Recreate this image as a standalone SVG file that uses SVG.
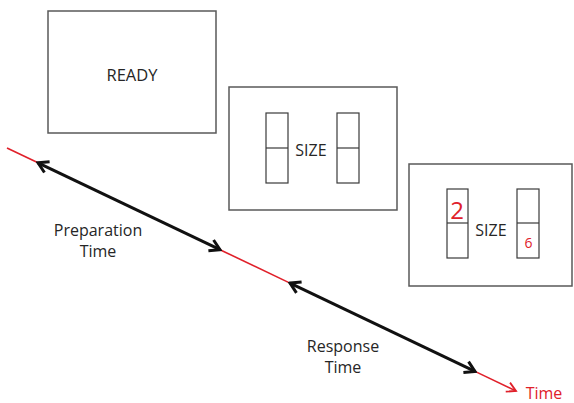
<svg xmlns="http://www.w3.org/2000/svg" width="574" height="403" viewBox="0 0 574 403">
  <style>
    .screen { fill: #ffffff; stroke: #595959; stroke-width: 1.5; }
    .slot { fill: none; stroke: #3a3a3a; stroke-width: 1.2; }
    .lbl { font-family: "Open Sans", "Liberation Sans", sans-serif; fill: #262626; text-anchor: middle; }
    .red { fill: #e0202a; }
    .axis { stroke: #e0202a; stroke-width: 1.6; fill: none; }
    .span { stroke: #111111; stroke-width: 3; fill: none; }
  </style>
  <defs>
    <marker id="chevBlack" viewBox="-12 -8 14 16" refX="0" refY="0" markerWidth="14" markerHeight="16" markerUnits="userSpaceOnUse" orient="auto-start-reverse">
      <path d="M-10,-6 L0,0 L-10,6" fill="none" stroke="#111111" stroke-width="3" stroke-linejoin="miter"/>
    </marker>
    <marker id="chevRed" viewBox="-12 -8 14 16" refX="0" refY="0" markerWidth="14" markerHeight="16" markerUnits="userSpaceOnUse" orient="auto">
      <path d="M-9,-5 L0,0 L-9,5" fill="none" stroke="#e0202a" stroke-width="1.8"/>
    </marker>
  </defs>
  <rect width="574" height="403" fill="#ffffff"/>

  <g id="ready-screen">
    <rect class="screen" x="48" y="11" width="168" height="122"/>
    <text class="lbl" x="132" y="81" font-size="16.5">READY</text>
  </g>

  <g id="size-screen">
    <rect class="screen" x="229" y="87" width="168" height="123"/>
    <rect class="slot" x="266" y="113" width="22" height="70"/>
    <line class="slot" x1="266" y1="148" x2="288" y2="148"/>
    <rect class="slot" x="337" y="113" width="22" height="70"/>
    <line class="slot" x1="337" y1="148" x2="359" y2="148"/>
    <text class="lbl" x="311" y="156" font-size="16">SIZE</text>
  </g>

  <g id="response-screen">
    <rect class="screen" x="409" y="164" width="163" height="122"/>
    <rect class="slot" x="447" y="189" width="21" height="69"/>
    <line class="slot" x1="447" y1="223" x2="468" y2="223"/>
    <rect class="slot" x="517" y="189" width="22" height="69"/>
    <line class="slot" x1="517" y1="223" x2="539" y2="223"/>
    <text class="lbl" x="491" y="236" font-size="16">SIZE</text>
    <text class="lbl red" x="457" y="219" font-size="24">2</text>
    <text class="lbl red" x="528.5" y="248" font-size="14">6</text>
  </g>

  <g id="connectors">
    <line class="axis" x1="7" y1="148" x2="38" y2="162.8"/>
    <line class="axis" x1="220" y1="249.7" x2="290" y2="283.1"/>
    <line class="axis" x1="475" y1="371.4" x2="516" y2="391" marker-end="url(#chevRed)"/>
    <line class="span" x1="38" y1="162.8" x2="220" y2="249.7" marker-start="url(#chevBlack)" marker-end="url(#chevBlack)"/>
    <line class="span" x1="290" y1="283.1" x2="475" y2="371.4" marker-start="url(#chevBlack)" marker-end="url(#chevBlack)"/>
  </g>

  <g id="labels">
    <text class="lbl" x="98" y="236" font-size="16">Preparation</text>
    <text class="lbl" x="98" y="257" font-size="16">Time</text>
    <text class="lbl" x="343" y="352" font-size="16">Response</text>
    <text class="lbl" x="343" y="373" font-size="16">Time</text>
    <text class="lbl red" x="544" y="399" font-size="16">Time</text>
  </g>
</svg>
